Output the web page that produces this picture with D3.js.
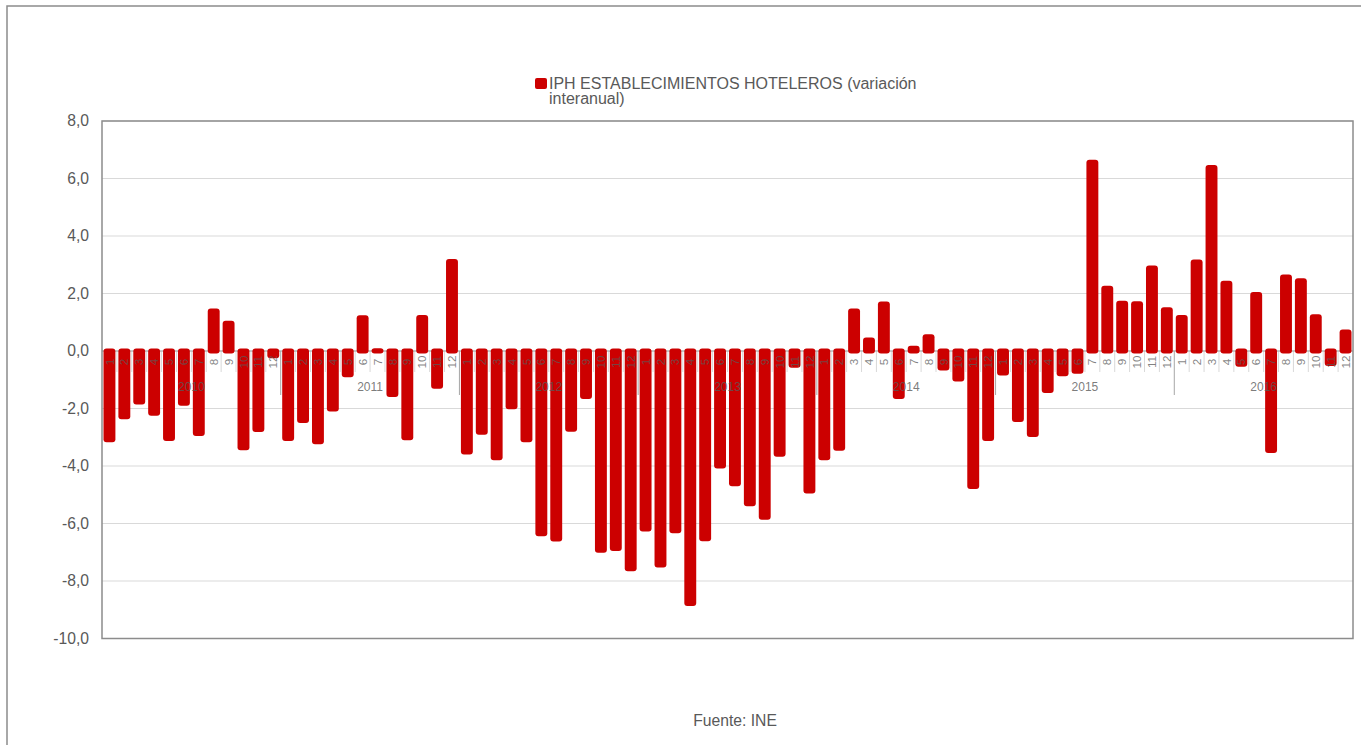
<!DOCTYPE html>
<html>
<head>
<meta charset="utf-8">
<script src="https://cdn.jsdelivr.net/npm/d3@7"></script>
<style>
  html, body { margin: 0; padding: 0; background: #fff; overflow: hidden; }
  svg { display: block; font-family: "Liberation Sans", Arial, sans-serif; }
</style>
</head>
<body>
<svg id="chart" width="1361" height="745"></svg>
<script>
// ---- data ----
const years = ["2010", "2011", "2012", "2013", "2014", "2015", "2016"];
const months = ["1", "2", "3", "4", "5", "6", "7", "8", "9", "10", "11", "12"];
const v2010 = [-3.17, -2.37, -1.86, -2.25, -3.13, -1.90, -2.96, 1.48, 1.05, -3.45, -2.82, -0.25];
const v2011 = [-3.13, -2.50, -3.24, -2.10, -0.91, 1.24, 0.10, -1.60, -3.10, 1.25, -1.31, 3.20];
const v2012 = [-3.60, -2.91, -3.80, -2.03, -3.17, -6.44, -6.63, -2.81, -1.67, -7.02, -6.96, -7.66];
const v2013 = [-6.28, -7.53, -6.34, -8.87, -6.62, -4.09, -4.70, -5.40, -5.87, -3.68, -0.58, -4.96];
const v2014 = [-3.80, -3.47, 1.48, 0.47, 1.72, -1.67, 0.18, 0.58, -0.68, -1.06, -4.80, -3.13];
const v2015 = [-0.85, -2.47, -2.99, -1.46, -0.88, -0.79, 6.65, 2.27, 1.75, 1.73, 2.97, 1.52];
const v2016 = [1.25, 3.18, 6.47, 2.44, -0.55, 2.05, -3.55, 2.66, 2.53, 1.28, -0.52, 0.75];
const yTicks = [-10, -8, -6, -4, -2, 0, 2, 4, 6, 8];
const seriesName = ["IPH ESTABLECIMIENTOS HOTELEROS (variación", "interanual)"];
const sourceText = "Fuente: INE";

(function () {
const yearValues = [v2010, v2011, v2012, v2013, v2014, v2015, v2016];
const data = [];
yearValues.forEach((vals, yi) => vals.forEach((v, mi) => data.push({year: years[yi], month: months[mi], value: v, idx: data.length})));

// ---- layout ----
const svg = d3.select("#chart");
const pL = 102, pR = 1353, pT = 121, pB = 638.5;
const textCol = "#595959";
const fs = "15.7px";

svg.append("rect").attr("x", 0).attr("y", 0).attr("width", 1361).attr("height", 745).attr("fill", "#fff");
// outer chart border
svg.append("rect").attr("x", 7).attr("y", 6).attr("width", 1420).attr("height", 800)
  .attr("fill", "none").attr("stroke", "#8c8c8c").attr("stroke-width", 1.5);

const x = d3.scaleBand().domain(data.map(d => d.idx)).range([pL, pR]).padding(0);
const xBar = d3.scaleBand().domain(data.map(d => d.idx)).range([pL, pR]).paddingInner(0.2).paddingOuter(0.1);
const y = d3.scaleLinear().domain([-10, 8]).range([pB, pT]);

const loc = d3.formatLocale({decimal: ",", thousands: ".", grouping: [3], currency: ["", "€"], minus: "-"});
const fmt = loc.format(".1f");

// gridlines
svg.append("g").selectAll("line").data(yTicks).join("line")
  .attr("x1", pL).attr("x2", pR)
  .attr("y1", d => y(d)).attr("y2", d => y(d))
  .attr("stroke", "#d9d9d9").attr("stroke-width", 1);

// y labels
svg.append("g").selectAll("text").data(yTicks).join("text")
  .attr("x", pL - 13).attr("y", d => y(d)).attr("dy", "0.33em")
  .attr("text-anchor", "end").attr("fill", textCol).style("font-size", fs)
  .text(d => fmt(d));

// month tick lines
const step = x.step();
svg.append("g").selectAll("line").data(data.filter(d => d.month !== "1")).join("line")
  .attr("x1", d => x(d.idx)).attr("x2", d => x(d.idx))
  .attr("y1", y(0)).attr("y2", y(0) + 21)
  .attr("stroke", "#d9d9d9").attr("stroke-width", 1);
// year boundary lines
svg.append("g").selectAll("line").data(data.filter(d => d.month === "1" && d.idx > 0)).join("line")
  .attr("x1", d => x(d.idx)).attr("x2", d => x(d.idx))
  .attr("y1", y(0)).attr("y2", y(0) + 44)
  .attr("stroke", "#a6a6a6").attr("stroke-width", 1);

// zero line
svg.append("line").attr("x1", pL).attr("x2", pR).attr("y1", y(0)).attr("y2", y(0))
  .attr("stroke", "#a6a6a6").attr("stroke-width", 1);

// bars
const ext = 2.5;
svg.append("g").selectAll("rect").data(data).join("rect")
  .attr("x", d => xBar(d.idx))
  .attr("width", xBar.bandwidth())
  .attr("y", d => d.value >= 0 ? y(d.value) : y(0) - ext)
  .attr("height", d => Math.abs(y(d.value) - y(0)) + ext)
  .attr("rx", 3).attr("ry", 3)
  .attr("fill", "#cc0000");

// month labels (over bars)
svg.append("g").selectAll("text").data(data).join("text")
  .attr("transform", d => `translate(${x(d.idx) + step / 2},${y(0) + 11}) rotate(-90)`)
  .attr("text-anchor", "middle").attr("dy", "0.35em")
  .attr("fill", textCol).attr("fill-opacity", 0.75).style("font-size", "11.7px")
  .text(d => d.month);

// year labels
svg.append("g").selectAll("text").data(years).join("text")
  .attr("x", yr => {
    const ds = data.filter(d => d.year === yr);
    return (x(ds[0].idx) + x(ds[ds.length - 1].idx) + step) / 2;
  })
  .attr("y", y(0) + 40)
  .attr("text-anchor", "middle").attr("fill", textCol).attr("fill-opacity", 0.8).style("font-size", "12px")
  .text(d => d);

// plot border
svg.append("rect").attr("x", pL).attr("y", pT).attr("width", pR - pL).attr("height", pB - pT)
  .attr("fill", "none").attr("stroke", "#8c8c8c").attr("stroke-width", 1.5);

// legend
svg.append("rect").attr("x", 535).attr("y", 78).attr("width", 12).attr("height", 11).attr("rx", 2)
  .attr("fill", "#cc0000");
svg.append("text").attr("x", 549).attr("y", 88.5).attr("fill", textCol).style("font-size", "16px").text(seriesName[0]);
svg.append("text").attr("x", 549).attr("y", 104).attr("fill", textCol).style("font-size", "16px").text(seriesName[1]);

// source
svg.append("text").attr("x", 735).attr("y", 726).attr("text-anchor", "middle")
  .attr("fill", textCol).style("font-size", fs).text(sourceText);
})();
</script>
</body>
</html>
